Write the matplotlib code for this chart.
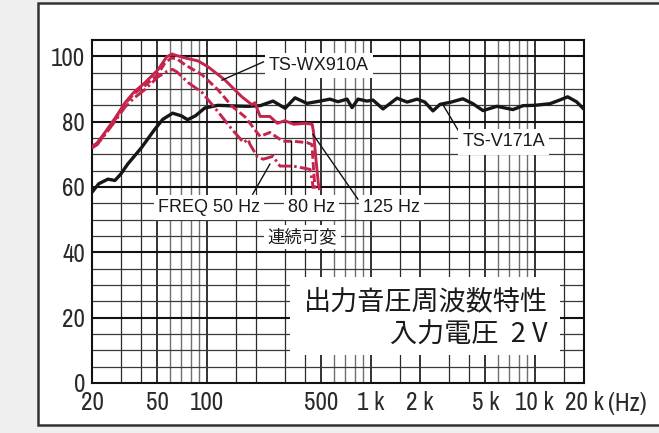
import matplotlib
matplotlib.use("Agg")
import matplotlib.pyplot as plt
from matplotlib import font_manager
from matplotlib.patches import Rectangle

# ========= datos =========
# TS-V171A (negro)
v171_hz = [20, 22, 25, 27.6, 30, 33, 40, 48, 54, 62, 70, 76.5, 85.5, 97.5, 117,
           150, 179, 212, 254, 301, 346, 409, 491, 565, 632, 718, 770, 838, 950,
           1034, 1190, 1450, 1670, 1920, 2140, 2400, 2650, 3100, 3650, 4200,
           4840, 5890, 7370, 8500, 10000, 12400, 14200, 15900, 18000, 20000]
v171_db = [58.4, 61, 62.4, 62, 64, 67, 72, 77.5, 80.7, 82.6, 81.8, 80.6, 81.8,
           84.2, 85, 84.8, 84.7, 84.9, 86.3, 84.1, 87.3, 85.6, 86.3, 86.9, 86.1,
           86.9, 84.3, 86.9, 86.3, 86.6, 83.9, 87.2, 86, 86.9, 86, 83.3, 85.3,
           86, 87, 85.5, 83.4, 84.7, 83.7, 84.9, 85, 85.5, 86.6, 87.6, 86.1, 83.8]

# TS-WX910A, FREQ 125 Hz (continua)
wx125_hz = [20, 21.5, 24, 28, 31.8, 36, 42, 50.5, 57, 61.5, 66, 74, 88.6, 102,
            129, 164, 189, 197, 203, 212, 243, 270, 300, 340, 400, 440, 448,
            465, 480, 486]
wx125_db = [72.4, 73.5, 76.7, 81.5, 85.8, 89, 91.9, 95.9, 99.8, 100.7, 100.2,
            99.5, 98.6, 96.8, 92.8, 87.6, 85.2, 85.8, 84, 81.6, 81.6, 79.5,
            80.3, 79.2, 79.5, 79.2, 77, 68, 61, 59.5]

# FREQ 80 Hz (discontinua)
wx80_hz = [20, 21.5, 24, 28, 31.8, 36, 42, 50.5, 55.7, 61, 66, 74, 94, 117, 143,
           171, 184, 197, 212, 243, 292, 336, 409, 439, 448, 458]
wx80_db = [72, 73, 76.5, 81, 85.5, 88.5, 91, 94.5, 98, 99.5, 99.2, 97.4, 94.3,
           89.8, 84.7, 81.5, 79.5, 77.5, 75.5, 76.7, 74, 74, 73.6, 73, 66, 59.5]

# FREQ 50 Hz (punto y raya)
wx50_hz = [20, 21.5, 24, 28, 31.8, 36, 42, 50.5, 57, 62, 66, 77, 94, 117, 143,
           168, 179, 184, 203, 221, 254, 280, 336, 371, 427, 440, 447]
wx50_db = [72, 73, 76, 80.5, 84.5, 87.2, 89.8, 93.7, 95.3, 96, 95.2, 92, 88.9,
           83.1, 77.6, 73.6, 74.6, 73, 69.4, 68.5, 69.4, 66.4, 66.4, 66, 65.4,
           62, 59.5]

x_ticks = [20, 50, 100, 500, 1000, 2000, 5000, 10000, 20000]
x_labels = ["20", "50", "100", "500", "1 k", "2 k", "5 k", "10 k", "20 k"]
y_ticks = [0, 20, 40, 60, 80, 100]

RED = "#c5244c"
BLACK = "#161616"

# ========= fuentes =========
# buscar una fuente estrecha para los números de los ejes
TICK_FONT, TICK_STRETCH, TICK_SIZE = "Liberation Sans", "normal", 16.5
for f in font_manager.fontManager.ttflist:
    if "Narrow" in f.name or "Condensed" in f.name:
        TICK_FONT, TICK_SIZE = f.name, 18
        break
    if f.name == "DejaVu Sans" and f.stretch in ("condensed", "semi-condensed"):
        TICK_FONT, TICK_STRETCH, TICK_SIZE = "DejaVu Sans", "condensed", 16.5
LABEL_FONT = ["Liberation Sans", "DejaVu Sans"]
JP_FONT = ["Noto Sans CJK JP", "DejaVu Sans"]
plt.rcParams["lines.scale_dashes"] = False

# ========= figura =========
fig = plt.figure(figsize=(6.59, 4.33), dpi=100, facecolor="#efefef")
frame = Rectangle((37.5 / 659, 8.5 / 433), 1.05, 421.5 / 433,
                  transform=fig.transFigure, facecolor="white",
                  edgecolor="#333333", lw=1.8, zorder=-10)
fig.add_artist(frame)

ax = fig.add_axes([92 / 659, 50 / 433, 492 / 659, 343 / 433], zorder=1)
ax.set_xscale("log")
ax.set_xlim(20, 20000)
ax.set_ylim(0, 105)
ax.set_facecolor("none")

# cuadrícula de papel logarítmico
for dec in [10, 100, 1000, 10000]:
    for m in [1, 1.5, 2, 3, 4, 5, 6, 7, 8, 9]:
        f = dec * m
        if f <= 20 or f >= 20000:
            continue
        if f in x_ticks:
            ax.axvline(f, color="#111111", lw=1.2, zorder=1)
        elif m >= 6:
            ax.axvline(f, color="#707070", lw=1.0, zorder=1)
        else:
            ax.axvline(f, color="#2a2a2a", lw=0.9, zorder=1)
for db in range(5, 105, 5):
    if db in y_ticks:
        ax.axhline(db, color="#111111", lw=1.5, zorder=1)
    else:
        ax.axhline(db, color="#3a3a3a", lw=0.9, zorder=1)

for s in ax.spines.values():
    s.set_color("#111111")
    s.set_linewidth(1.5)

# curvas
ax.plot(v171_hz, v171_db, color=BLACK, lw=2.4, zorder=3, solid_joinstyle="round")
ax.plot(wx50_hz, wx50_db, color=RED, lw=2.1, zorder=3,
        dashes=(9.5, 2.4, 1.8, 2.4))
ax.plot(wx80_hz, wx80_db, color=RED, lw=2.1, zorder=3, dashes=(6, 2.4))
ax.plot(wx125_hz, wx125_db, color=RED, lw=2.1, zorder=3, solid_joinstyle="round")

# líneas guía
leader = dict(color="#111111", lw=1.0, zorder=4)
ax.plot([124, 222], [92.7, 98.3], **leader)
ax.plot([2760, 3500], [85.2, 76.5], **leader)
ax.plot([243, 191], [67, 57.8], **leader)
ax.plot([327, 327], [74, 57.2], **leader)
ax.plot([445, 836], [76.1, 56.3], **leader)

box = dict(facecolor="white", edgecolor="none", pad=3)
lab = dict(fontsize=13, family=LABEL_FONT, color="#1a1a1a", va="center",
           ha="left", zorder=6, bbox=box)
ax.text(240, 97.2, "TS-WX910A", **lab)
ax.text(3620, 73.8, "TS-V171A", **lab)
ax.text(50.5, 53.8, "FREQ 50 Hz", **lab)
ax.text(314, 53.8, "80 Hz", **lab)
ax.text(900, 53.8, "125 Hz", **lab)
ax.text(384, 44.7, "連続可変", fontsize=12.5, family=JP_FONT, color="#1a1a1a",
        ha="center", va="center", zorder=6,
        bbox=dict(facecolor="white", edgecolor="none", pad=2.5))

# recuadro del título
ax.add_patch(Rectangle((323, 8.6), 14220 - 323, 23.8, facecolor="white",
                       edgecolor="none", zorder=5))
ax.text(12080, 24.8, "出力音圧周波数特性", fontsize=19.5, family=JP_FONT,
        color="#1a1a1a", ha="right", va="center", zorder=6)
ax.text(12080, 14.7, "入力電圧  2 V", fontsize=19.5, family=JP_FONT,
        color="#1a1a1a", ha="right", va="center", zorder=6)

# ejes
ax.set_xticks(x_ticks)
ax.set_xticklabels(x_labels)
ax.set_yticks(y_ticks)
ax.set_yticklabels([str(v) for v in y_ticks])
ax.minorticks_off()
ax.tick_params(length=0, labelsize=TICK_SIZE, colors="#2a2a2a")
ax.tick_params(axis="x", pad=6)
ax.tick_params(axis="y", pad=5)
for t in ax.get_xticklabels() + ax.get_yticklabels():
    t.set_family(TICK_FONT)
    t.set_stretch(TICK_STRETCH)
    t.set_weight("light")
fig.text(608 / 659, (433 - 392) / 433, "(Hz)", fontsize=TICK_SIZE,
         family=TICK_FONT, stretch=TICK_STRETCH, weight="light",
         color="#2a2a2a", ha="left", va="top")

fig.savefig("out.png", dpi=100, facecolor=fig.get_facecolor())
